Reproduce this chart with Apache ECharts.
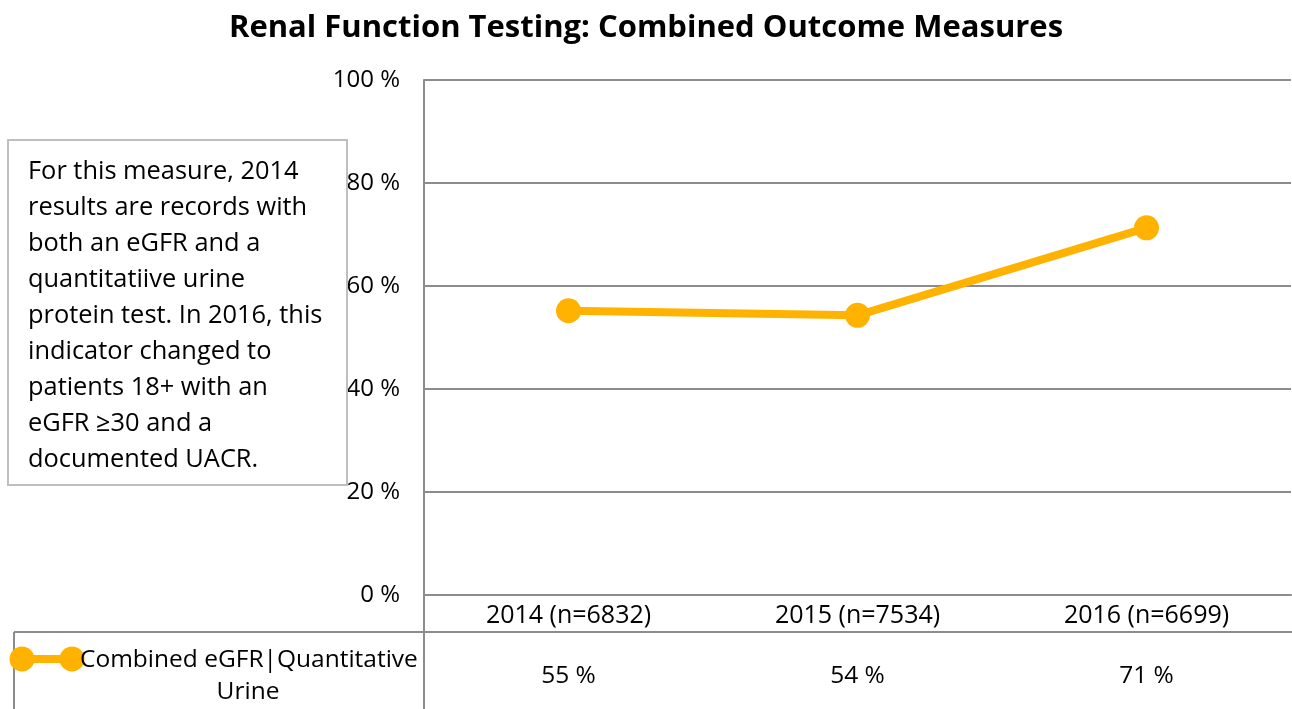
<!DOCTYPE html>
<html><head><meta charset="utf-8">
<script src="https://cdn.jsdelivr.net/npm/echarts@6/dist/echarts.min.js"></script>
<style>html,body{margin:0;padding:0;background:#fff}#c{width:1292px;height:709px}</style>
</head><body><div id="c"></div>
<script>
const title = 'Renal Function Testing: Combined Outcome Measures';
const categories = ['2014 (n=6832)', '2015 (n=7534)', '2016 (n=6699)'];
const seriesName = 'Combined eGFR|Quantitative Urine';
const values = [55.2, 54.3, 71.3];
const valueLabels = ['55 %', '54 %', '71 %'];
const yTicks = [0, 20, 40, 60, 80, 100];
const note = 'For this measure, 2014\nresults are records with\nboth an eGFR and a\nquantitatiive urine\nprotein test. In 2016, this\nindicator changed to\npatients 18+ with an\neGFR \u226530 and a\ndocumented UACR.';

const FONT = '"Open Sans"';
const GRID = '#8c8c8c';
const COLOR = '#FFB300';
const chart = echarts.init(document.getElementById('c'));
chart.setOption({
  animation: false,
  textStyle: {fontFamily: FONT},
  title: {text: title, left: 'center', top: 8,
    textStyle: {fontFamily: FONT, fontWeight: 'bold', fontSize: 31, color: '#000'}},
  grid: {left: 424, right: 1, top: 80, bottom: 114},
  xAxis: [{
    type: 'category', data: categories, boundaryGap: true,
    axisLine: {show: true, lineStyle: {color: GRID, width: 2}},
    axisTick: {show: false},
    axisLabel: {fontSize: 25, color: '#000', margin: 21, verticalAlign: 'middle'}
  }, {
    type: 'category', data: valueLabels, position: 'bottom', offset: 81, boundaryGap: true,
    axisLine: {show: false}, axisTick: {show: false},
    axisLabel: {fontSize: 24.5, color: '#000', margin: 0, verticalAlign: 'middle'}
  }],
  yAxis: {
    type: 'value', min: 0, max: 100, interval: 20,
    axisLine: {show: true, lineStyle: {color: GRID, width: 2}},
    axisTick: {show: false},
    axisLabel: {formatter: '{value} %', fontSize: 24, color: '#000', margin: 24},
    splitLine: {lineStyle: {color: GRID, width: 2}}
  },
  series: [{
    name: seriesName, type: 'line', data: values,
    symbol: 'circle', symbolSize: 25,
    lineStyle: {color: COLOR, width: 8},
    itemStyle: {color: COLOR}
  }],
  graphic: [
    {type: 'line', shape: {x1: 14, y1: 632, x2: 1292, y2: 632}, style: {stroke: GRID, lineWidth: 2}},
    {type: 'line', shape: {x1: 14, y1: 632, x2: 14, y2: 709}, style: {stroke: GRID, lineWidth: 2}},
    {type: 'line', shape: {x1: 424, y1: 595, x2: 424, y2: 709}, style: {stroke: GRID, lineWidth: 2}},
    {type: 'line', shape: {x1: 22, y1: 659, x2: 72, y2: 659}, style: {stroke: COLOR, lineWidth: 8}},
    {type: 'circle', shape: {cx: 22, cy: 659, r: 12.5}, style: {fill: COLOR}},
    {type: 'circle', shape: {cx: 72, cy: 659, r: 12.5}, style: {fill: COLOR}},
    {type: 'text', style: {x: 80, y: 660, text: 'Combined eGFR|Quantitative', font: '24.5px ' + FONT, fill: '#000', textVerticalAlign: 'middle'}},
    {type: 'text', style: {x: 248, y: 692, text: 'Urine', font: '24.5px ' + FONT, fill: '#000', textAlign: 'center', textVerticalAlign: 'middle'}},
    {type: 'rect', shape: {x: 8, y: 140, width: 339, height: 345}, style: {fill: '#fff', stroke: '#bfbfbf', lineWidth: 2}, z: 10},
    {type: 'text', style: {x: 28, y: 154, text: note, font: '25.4px ' + FONT, fill: '#000', lineHeight: 36}, z: 11}
  ]
});
</script></body></html>
